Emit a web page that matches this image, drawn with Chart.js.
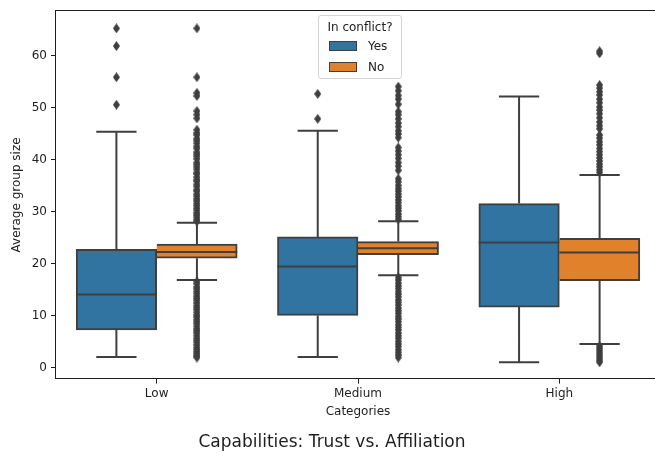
<!DOCTYPE html>
<html>
<head>
<meta charset="utf-8">
<title>Capabilities: Trust vs. Affiliation</title>
<script src="https://cdn.jsdelivr.net/npm/chart.js@4"></script>
<style>
  html, body { margin: 0; padding: 0; background: #fff; overflow: hidden; }
  #wrap { position: relative; width: 666px; height: 461px; }
  #legend {
    position: absolute; left: 318px; top: 15px; width: 84px; height: 64px;
    box-sizing: border-box; border: 1px solid #d4d4d4; border-radius: 3px;
    background: rgba(255,255,255,0.8); font: 12px "DejaVu Sans", sans-serif; color: #222;
  }
  #legend .ttl { position: absolute; left: 0; right: 0; top: 4px; text-align: center; line-height: 14px; }
  #legend .patch { position: absolute; left: 10px; width: 28px; height: 10px; box-sizing: border-box; border: 1px solid #3f3f3f; }
  #legend .lbl { position: absolute; left: 49px; line-height: 14px; }
</style>
</head>
<body>
<div id="wrap">
  <canvas id="c" width="666" height="461"></canvas>
  <div id="legend"></div>
</div>
<script>
// Categories, series and labels
const categories = ['Low', 'Medium', 'High'];
const seriesNames = ['Yes', 'No'];
const legendTitle = 'In conflict?';
const xTitle = 'Categories';
const yTitle = 'Average group size';
const chartTitle = 'Capabilities: Trust vs. Affiliation';
const yTicks = [0, 10, 20, 30, 40, 50, 60];

// Box statistics, "Yes" group
const yesLowerWhisker = [2.0, 2.0, 1.0];
const yesQ1 = [7.2, 10.0, 11.6];
const yesMedian = [14.0, 19.4, 24.0];
const yesQ3 = [22.7, 25.1, 31.5];
const yesUpperWhisker = [45.3, 45.5, 52.1];

// Box statistics, "No" group
const noLowerWhisker = [16.8, 17.7, 4.5];
const noQ1 = [21.0, 21.7, 16.7];
const noMedian = [22.2, 22.9, 22.1];
const noQ3 = [23.7, 24.2, 24.8];
const noUpperWhisker = [27.8, 28.1, 37.0];

// Outliers, "Yes" group
const yesOutliersLow = [65.2, 61.8, 55.8, 50.5];
const yesOutliersMedium = [52.6, 47.8];
const yesOutliersHigh = [];

// Outliers, "No" group
const noOutliersLow = [65.2, 55.8, 52.8, 52.2, 49.3, 48.6, 47.9, 45.7, 45.1, 44.7, 44.0, 43.6, 43.1,
  42.5, 42.1, 41.4, 41.0, 40.6, 40.1, 39.4, 39.0, 38.6, 38.1, 37.5, 37.2, 36.6, 36.1, 35.8, 35.2,
  34.8, 34.2, 33.9, 33.3, 32.9, 32.4, 32.0, 31.5, 31.1, 30.6, 30.2, 29.7, 29.3, 28.9, 28.4, 28.1,
  16.5, 16.1, 15.5, 15.1, 14.6, 14.2, 13.7, 13.3, 12.9, 12.4, 11.9, 11.5, 11.1, 10.6, 10.1, 9.7,
  9.2, 8.8, 8.4, 7.9, 7.4, 7.0, 6.6, 6.1, 5.6, 5.2, 4.8, 4.3, 3.8, 3.4, 3.0, 2.6, 2.2, 1.9];
const noOutliersMedium = [54.0, 53.2, 52.3, 51.6, 50.6, 49.2, 48.6, 47.8, 47.0, 46.3, 45.5, 44.9,
  44.2, 42.3, 41.6, 40.9, 40.2, 39.4, 38.7, 37.9, 36.3, 35.7, 35.0, 34.4, 33.9, 33.3, 32.8, 32.2,
  31.7, 31.1, 30.6, 30.1, 29.5, 29.0, 28.5,
  17.3, 16.8, 16.2, 15.7, 15.2, 14.6, 14.1, 13.6, 13.0, 12.5, 12.0, 11.4, 10.9, 10.4, 9.8, 9.3,
  8.8, 8.2, 7.7, 7.2, 6.6, 6.1, 5.6, 5.0, 4.5, 4.0, 3.4, 2.9, 2.4, 1.9];
const noOutliersHigh = [60.8, 60.4, 54.3, 53.7, 53.0, 52.4, 51.6, 50.9, 50.1, 49.5, 48.8, 48.0,
  47.2, 46.5, 45.9, 44.7, 44.1, 43.4, 42.8, 42.1, 41.5, 40.9, 40.3, 39.7, 39.1, 38.6, 38.0, 37.5,
  4.1, 3.7, 3.3, 2.9, 2.5, 2.1, 1.7, 1.3, 1.0];

// Styling
const FONT = 'DejaVu Sans';
const TEXT = '#1e1e1e';
const LINE = '#3f3f3f';
const fills = ['#3274a1', '#e1812c'];

const groups = [
  { low: yesLowerWhisker, q1: yesQ1, med: yesMedian, q3: yesQ3, high: yesUpperWhisker,
    out: [yesOutliersLow, yesOutliersMedium, yesOutliersHigh] },
  { low: noLowerWhisker, q1: noQ1, med: noMedian, q3: noQ3, high: noUpperWhisker,
    out: [noOutliersLow, noOutliersMedium, noOutliersHigh] }
];

// Each hue box is 0.4 of a category wide, dodged left/right of the category centre
const BOX_W = 0.4;
const centre = (s, i) => i + (s === 0 ? -BOX_W / 2 : BOX_W / 2);

// Thin diamond marker for outliers
function diamond() {
  const c = document.createElement('canvas');
  c.width = 7; c.height = 10;
  const g = c.getContext('2d');
  g.fillStyle = LINE;
  g.beginPath();
  g.moveTo(3.5, 0); g.lineTo(7, 5); g.lineTo(3.5, 10); g.lineTo(0, 5);
  g.closePath(); g.fill();
  return c;
}
const marker = diamond();

const datasets = [];

// Interquartile boxes as floating bars placed at their dodged positions
groups.forEach((g, s) => {
  datasets.push({
    type: 'bar', label: seriesNames[s], order: 3, grouped: false,
    data: categories.map((_, i) => ({ x: centre(s, i), y: [g.q1[i], g.q3[i]] })),
    backgroundColor: fills[s], borderColor: LINE, borderSkipped: false,
    borderWidth: s === 0 ? 2 : { left: 0, top: 2, right: 2, bottom: 2 },
    categoryPercentage: 1.0, barPercentage: 1.0
  });
});

// Whiskers, caps and medians
const whiskerPts = [];
const medianPts = [];
groups.forEach((g, s) => {
  categories.forEach((_, i) => {
    const xc = centre(s, i);
    const half = BOX_W / 4;
    whiskerPts.push(
      { x: xc, y: g.low[i] }, { x: xc, y: g.q1[i] }, { x: xc, y: null },
      { x: xc, y: g.q3[i] }, { x: xc, y: g.high[i] }, { x: xc, y: null },
      { x: xc - half, y: g.low[i] }, { x: xc + half, y: g.low[i] }, { x: xc, y: null },
      { x: xc - half, y: g.high[i] }, { x: xc + half, y: g.high[i] }, { x: xc, y: null }
    );
    medianPts.push(
      { x: xc - BOX_W / 2, y: g.med[i] }, { x: xc + BOX_W / 2, y: g.med[i] }, { x: xc, y: null }
    );
  });
});
datasets.push({
  type: 'line', label: 'whiskers', order: 2,
  data: whiskerPts, borderColor: LINE, borderWidth: 2, pointRadius: 0,
  spanGaps: false, fill: false, borderCapStyle: 'butt'
});
datasets.push({
  type: 'line', label: 'medians', order: 0,
  data: medianPts, borderColor: LINE, borderWidth: 2, pointRadius: 0,
  spanGaps: false, fill: false, borderCapStyle: 'butt'
});

// Outlier points
groups.forEach((g, s) => {
  const pts = [];
  g.out.forEach((vals, i) => vals.forEach(v => pts.push({ x: centre(s, i), y: v })));
  datasets.push({
    type: 'scatter', label: seriesNames[s] + ' outliers', order: 1,
    data: pts, pointStyle: marker, pointRadius: 5, showLine: false
  });
});

// Plot frame on all four sides
const frame = {
  id: 'frame',
  afterDatasetsDraw(chart) {
    const { ctx, chartArea: a } = chart;
    ctx.save();
    ctx.strokeStyle = TEXT;
    ctx.lineWidth = 1;
    ctx.strokeRect(Math.round(a.left) - 0.5, Math.round(a.top) - 0.5,
      Math.round(a.right - a.left) + 1, Math.round(a.bottom - a.top) + 1);
    ctx.restore();
  }
};

const tickFont = { family: FONT, size: 12 };

new Chart(document.getElementById('c'), {
  type: 'bar',
  data: { datasets },
  options: {
    responsive: false, animation: false, events: [],
    layout: { padding: { left: 0, top: 8, right: 2, bottom: 0 } },
    plugins: {
      legend: { display: false },
      tooltip: { enabled: false },
      title: {
        display: true, text: chartTitle, position: 'bottom', color: TEXT,
        font: { family: FONT, size: 17, weight: 'normal' }, padding: { top: 0, bottom: 8 }
      }
    },
    scales: {
      x: {
        type: 'linear', min: -0.5, max: 2.5, offset: false,
        afterBuildTicks(s) { s.ticks = categories.map((_, i) => ({ value: i })); },
        grid: { offset: false, drawOnChartArea: false, drawTicks: true, tickLength: 5, color: TEXT },
        border: { display: false },
        ticks: { font: tickFont, color: TEXT, padding: 3, maxRotation: 0, autoSkip: false,
          callback: v => categories[v] },
        title: { display: true, text: xTitle, color: TEXT, font: tickFont, padding: { top: 0, bottom: 14 } },
        afterFit(s) { s.height = 54; }
      },
      y: {
        type: 'linear', min: -2.15, max: 68.5,
        afterBuildTicks(s) { s.ticks = yTicks.map(v => ({ value: v })); },
        grid: { drawOnChartArea: false, drawTicks: true, tickLength: 5, color: TEXT },
        border: { display: false },
        ticks: { font: tickFont, color: TEXT, padding: 4 },
        title: { display: true, text: yTitle, color: TEXT, font: tickFont, padding: { top: 10, bottom: 0 } },
        afterFit(s) { s.width = 56; }
      }
    }
  },
  plugins: [frame]
});

// Legend
const legend = document.getElementById('legend');
const t = document.createElement('div');
t.className = 'ttl';
t.textContent = legendTitle;
legend.appendChild(t);
seriesNames.forEach((name, s) => {
  const p = document.createElement('div');
  p.className = 'patch';
  p.style.top = (25 + s * 20.5) + 'px';
  p.style.background = fills[s];
  legend.appendChild(p);
  const l = document.createElement('div');
  l.className = 'lbl';
  l.style.top = (23 + s * 20.5) + 'px';
  l.textContent = name;
  legend.appendChild(l);
});
</script>
</body>
</html>
